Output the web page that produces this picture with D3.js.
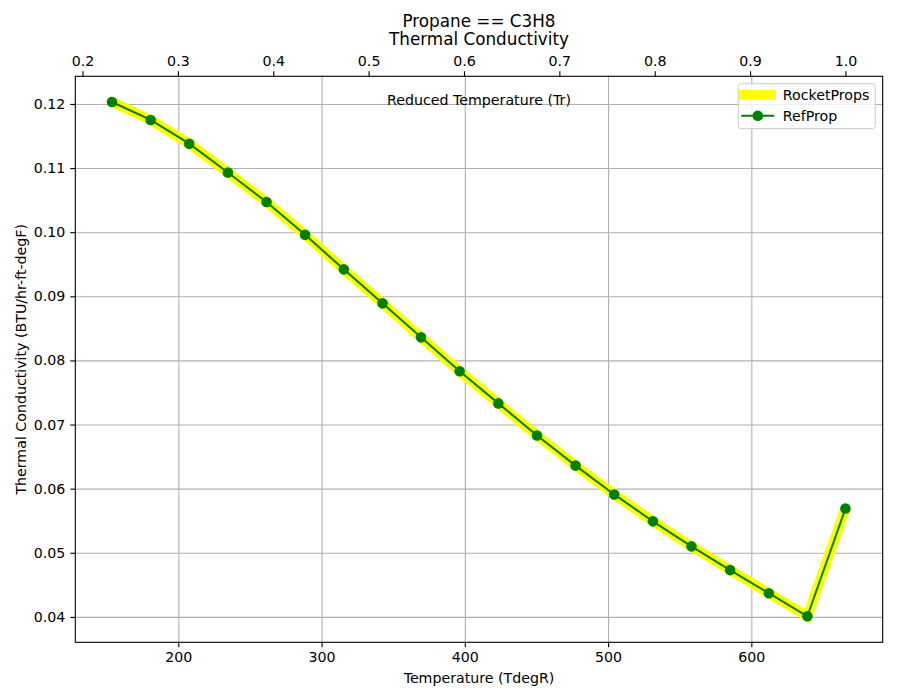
<!DOCTYPE html>
<html>
<head>
<meta charset="utf-8">
<script src="https://cdn.jsdelivr.net/npm/d3@7"></script>
<style>
  body { margin: 0; background: #fff; }
  svg text { font-family: "DejaVu Sans", sans-serif; fill: #000; }
</style>
</head>
<body>
<div id="chart"></div>
<script>
// ---- DATA ----
const tempR = [153.7, 180.7, 207.6, 234.6, 261.6, 288.5, 315.5, 342.5, 369.4, 396.4,
               423.4, 450.4, 477.3, 504.3, 531.3, 558.2, 585.2, 612.2, 639.1, 665.7];
const rocketProps = [0.1203, 0.1175, 0.1138, 0.1093, 0.1047, 0.0996, 0.0942, 0.0889, 0.0836, 0.0783,
                     0.0733, 0.0683, 0.0636, 0.0591, 0.0549, 0.0510, 0.0473, 0.0437, 0.0401, 0.0569];
const refProp = [0.1203, 0.1175, 0.1138, 0.1093, 0.1047, 0.0996, 0.0942, 0.0889, 0.0836, 0.0783,
                 0.0733, 0.0683, 0.0636, 0.0591, 0.0549, 0.0510, 0.0473, 0.0437, 0.0401, 0.0569];
const xTicks = [200, 300, 400, 500, 600];
const yTicks = [0.04, 0.05, 0.06, 0.07, 0.08, 0.09, 0.10, 0.11, 0.12];
const trTicks = [0.2, 0.3, 0.4, 0.5, 0.6, 0.7, 0.8, 0.9, 1.0];
const titleLines = ['Propane == C3H8', 'Thermal Conductivity'];
const Tc = 665.7;

const W = 900, H = 700;
const margin = { top: 76.3, right: 17.3, bottom: 57.7, left: 75.3 };
const w = W - margin.left - margin.right;
const h = H - margin.top - margin.bottom;
const fs = '14.2px';

const svg = d3.select('#chart').append('svg')
  .attr('width', W).attr('height', H);

const g = svg.append('g')
  .attr('transform', `translate(${margin.left},${margin.top})`);

const xScale = d3.scaleLinear().domain([128.1, 691.7]).range([0, w]);
const yScale = d3.scaleLinear().domain([0.03604, 0.12431]).range([h, 0]);
const trScale = d3.scaleLinear().domain([128.1 / Tc, 691.7 / Tc]).range([0, w]);

// ---- GRID LINES ----
g.append('g')
  .call(d3.axisBottom(xScale).tickValues(xTicks).tickSize(h).tickFormat(''))
  .call(a => a.select('.domain').remove())
  .call(a => a.selectAll('line').attr('stroke', '#b0b0b0').attr('stroke-width', 1.1));

g.append('g')
  .call(d3.axisLeft(yScale).tickValues(yTicks).tickSize(-w).tickFormat(''))
  .call(a => a.select('.domain').remove())
  .call(a => a.selectAll('line').attr('stroke', '#b0b0b0').attr('stroke-width', 1.1));

// ---- LINES ----
const pts = tempR.map((t, i) => ({ t, rp: rocketProps[i], ref: refProp[i] }));

g.append('path').datum(pts)
  .attr('fill', 'none').attr('stroke', '#ffff00').attr('stroke-width', 10)
  .attr('d', d3.line().x(d => xScale(d.t)).y(d => yScale(d.rp)));

g.append('path').datum(pts)
  .attr('fill', 'none').attr('stroke', '#008000').attr('stroke-width', 2)
  .attr('d', d3.line().x(d => xScale(d.t)).y(d => yScale(d.ref)));

g.selectAll('.dot').data(pts).join('circle')
  .attr('class', 'dot')
  .attr('cx', d => xScale(d.t)).attr('cy', d => yScale(d.ref))
  .attr('r', 5.3).attr('fill', '#008000');

// ---- FRAME ----
g.append('rect').attr('width', w).attr('height', h)
  .attr('fill', 'none').attr('stroke', '#000').attr('stroke-width', 1.1);

// ---- AXES ----
const styleAxis = a => {
  a.select('.domain').remove();
  a.selectAll('line').attr('stroke', '#000').attr('stroke-width', 1.1);
  a.selectAll('text').style('font-size', fs).style('font-family', 'DejaVu Sans');
};

g.append('g').attr('transform', `translate(0,${h})`)
  .call(d3.axisBottom(xScale).tickValues(xTicks).tickSize(5).tickPadding(5).tickFormat(d3.format('d')))
  .call(styleAxis);

g.append('g')
  .call(d3.axisLeft(yScale).tickValues(yTicks).tickSize(5).tickPadding(5).tickFormat(d3.format('.2f')))
  .call(styleAxis);

g.append('g')
  .call(d3.axisTop(trScale).tickValues(trTicks).tickSize(5).tickPadding(5).tickFormat(d3.format('.1f')))
  .call(styleAxis);

// ---- LABELS ----
g.append('text').attr('x', w / 2).attr('y', 29)
  .attr('text-anchor', 'middle').style('font-size', fs)
  .text('Reduced Temperature (Tr)');

g.append('text').attr('x', w / 2).attr('y', h + 41)
  .attr('text-anchor', 'middle').style('font-size', fs)
  .text('Temperature (TdegR)');

svg.append('text').attr('transform', 'rotate(-90)')
  .attr('x', -(margin.top + h / 2)).attr('y', 26)
  .attr('text-anchor', 'middle').style('font-size', fs)
  .text('Thermal Conductivity (BTU/hr-ft-degF)');

// ---- TITLE (two lines in one text) ----
svg.append('text').attr('text-anchor', 'middle').style('font-size', '16.8px')
  .selectAll('tspan').data(titleLines).join('tspan')
  .attr('x', margin.left + w / 2)
  .attr('y', (d, i) => 27 + i * 18)
  .text(d => d);

// ---- LEGEND ----
const lg = svg.append('g').attr('transform', 'translate(738.3,83.7)');
lg.append('rect').attr('width', 137).attr('height', 45).attr('rx', 3)
  .attr('fill', '#fff').attr('fill-opacity', 0.8)
  .attr('stroke', '#cccccc').attr('stroke-width', 1);
lg.append('line').attr('x1', 0.5).attr('x2', 37.5).attr('y1', 11).attr('y2', 11)
  .attr('stroke', '#ffff00').attr('stroke-width', 10);
lg.append('text').attr('x', 44.5).attr('y', 16).style('font-size', fs).text('RocketProps');
lg.append('line').attr('x1', 3).attr('x2', 36).attr('y1', 32).attr('y2', 32)
  .attr('stroke', '#008000').attr('stroke-width', 2);
lg.append('circle').attr('cx', 19.5).attr('cy', 32).attr('r', 5.3).attr('fill', '#008000');
lg.append('text').attr('x', 44.5).attr('y', 37).style('font-size', fs).text('RefProp');
</script>
</body>
</html>
